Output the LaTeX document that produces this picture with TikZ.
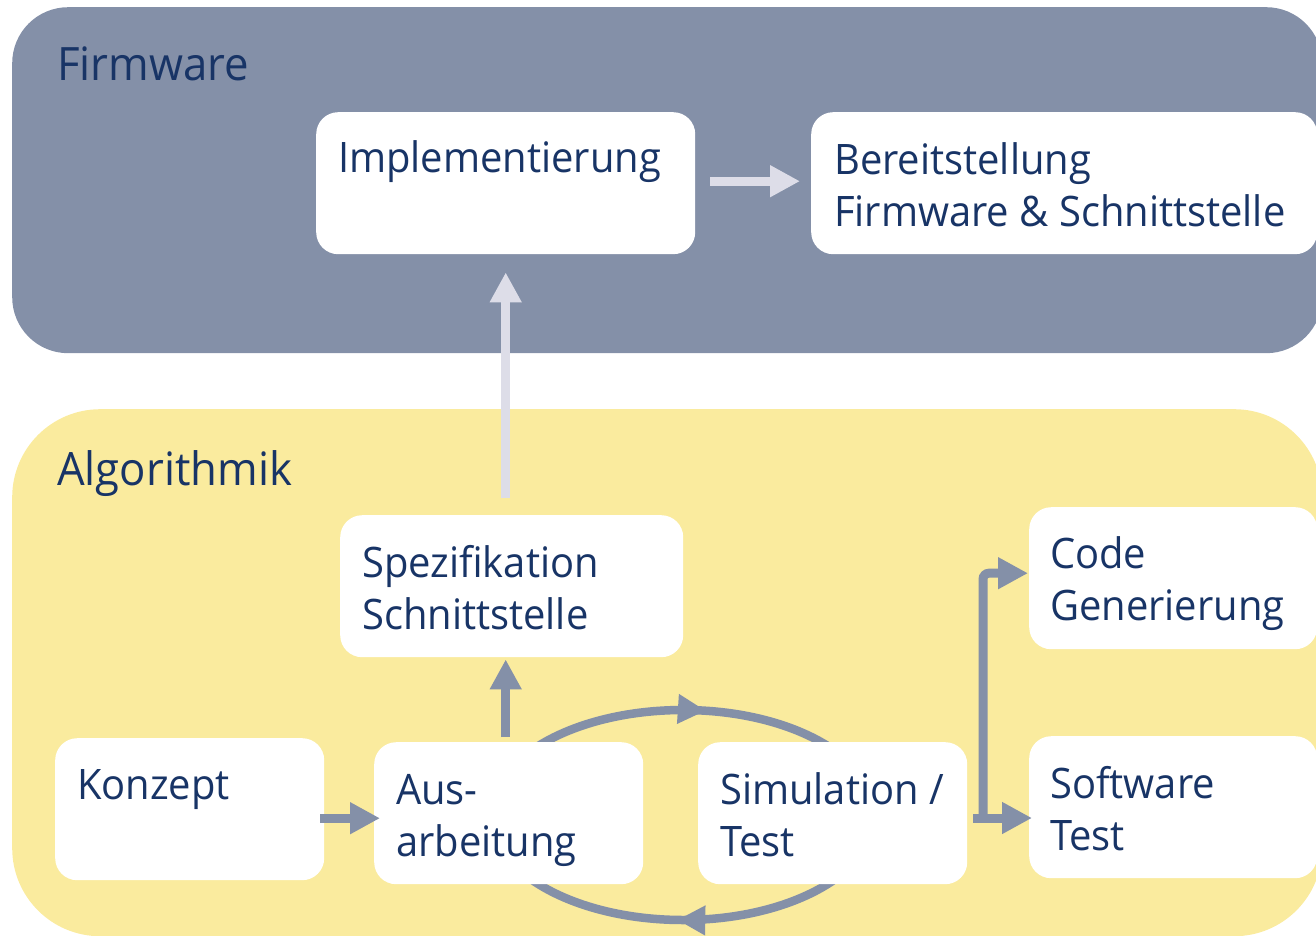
\documentclass[tikz,border=0pt]{standalone}
\usepackage{fontspec}
\setmainfont{Open Sans}[FakeStretch=0.95]
\usetikzlibrary{arrows.meta,decorations.markings,calc}
\definecolor{fwgray}{RGB}{132,144,168}
\definecolor{algyellow}{RGB}{250,235,158}
\definecolor{navy}{RGB}{24,52,102}
\definecolor{lightarr}{RGB}{221,221,232}
\definecolor{darkarr}{RGB}{132,144,168}
\begin{document}
\begin{tikzpicture}[x=1pt,y=-1pt,
  panelbox/.style={draw=none, inner sep=0pt, anchor=north west},
  whitebox/.style={fill=white, draw=none, rounded corners=22pt, inner sep=0pt, anchor=north west, minimum height=142pt},
  boxtext/.style={text=navy, inner sep=0pt, anchor=base west, align=left, font=\fontsize{42}{52}\selectfont},
  titletext/.style={text=navy, inner sep=0pt, anchor=base west, font=\fontsize{46}{56}\selectfont},
  lightflow/.style={draw=lightarr, line width=9pt, -{Triangle[length=30pt,width=30pt]}},
  darkflow/.style={draw=darkarr, line width=9pt, -{Triangle[length=30pt,width=30pt]}},
  loopline/.style={draw=darkarr, line width=8.5pt,
    postaction={decorate, decoration={markings,
      mark=at position 0.226 with {\arrowreversed[darkarr]{Triangle[length=28pt,width=28pt]}},
      mark=at position 0.744 with {\arrowreversed[darkarr]{Triangle[length=28pt,width=28pt]}}}}}
]
\useasboundingbox (0,0) rectangle (1316,936);
\clip (0,0) rectangle (1316,936);

% panels
\node[panelbox, fill=fwgray, rounded corners=56pt, minimum width=1310pt, minimum height=346pt] (fw) at (12,7) {};
\node[panelbox, fill=algyellow, rounded corners=88pt, minimum width=1310pt, minimum height=527pt] (alg) at (12,409) {};
\node[titletext] (fwtitle) at ($(fw.north west)+(45,74)$) {Firmware};
\node[titletext] (algtitle) at ($(alg.north west)+(45,76)$) {Algorithmik};

% iteration loop (behind boxes)
\coordinate (loopc) at (683,815);
\draw[loopline] (loopc) ellipse [x radius=192pt, y radius=105pt];

% boxes
\node[whitebox, minimum width=379pt] (impl) at (316,112) {};
\node[whitebox, minimum width=506pt] (bereit) at (811,112) {};
\node[whitebox, minimum width=343pt] (spez) at (340,515) {};
\node[whitebox, minimum width=288pt] (code) at (1029,507) {};
\node[whitebox, minimum width=269pt] (konzept) at (55,738) {};
\node[whitebox, minimum width=269pt] (aus) at (374,742) {};
\node[whitebox, minimum width=269pt] (sim) at (698,742) {};
\node[whitebox, minimum width=288pt] (sw) at (1029,736) {};

% texts (base anchor = baseline of the last line)
\node[boxtext] (impl-t) at ($(impl.north west)+(22,61)$) {Implementierung};
\node[boxtext] (bereit-t) at ($(bereit.north west)+(23,114)$) {Bereitstellung\\Firmware \& Schnittstelle};
\node[boxtext] (spez-t) at ($(spez.north west)+(22,114)$) {Spezifikation\\Schnittstelle};
\node[boxtext] (code-t) at ($(code.north west)+(21,113)$) {Code\\Generierung};
\node[boxtext] (konzept-t) at ($(konzept.north west)+(22,61)$) {Konzept};
\node[boxtext] (aus-t) at ($(aus.north west)+(22,114)$) {Aus-\\arbeitung};
\node[boxtext] (sim-t) at ($(sim.north west)+(22,114)$) {Simulation /\\Test};
\node[boxtext] (sw-t) at ($(sw.north west)+(21,114)$) {Software\\Test};

% connectors
\draw[lightflow, shorten <=15pt, shorten >=11pt] ([yshift=2pt]impl.east) -- ([yshift=2pt]bereit.west);
\draw[lightflow, shorten <=17pt, shorten >=18pt] (impl.south |- spez.north) -- (impl.south);
\draw[darkflow, shorten <=5pt, shorten >=2pt] ([xshift=-3pt]aus.north) -- ([xshift=-3pt]aus.north |- spez.south);
\draw[darkflow, shorten <=-4pt, shorten >=-6pt] ([yshift=-9pt]konzept.east) -- ([yshift=-9pt]konzept.east -| aus.west);
\coordinate (split) at (983,818);
\draw[darkflow, shorten <=6pt, shorten >=-3pt] (sim.east |- split) -- (sw.west |- split);
\draw[darkflow, rounded corners=6pt, shorten >=1pt] ([yshift=4pt]split) |- ([yshift=5pt]code.west);
\end{tikzpicture}
\end{document}
